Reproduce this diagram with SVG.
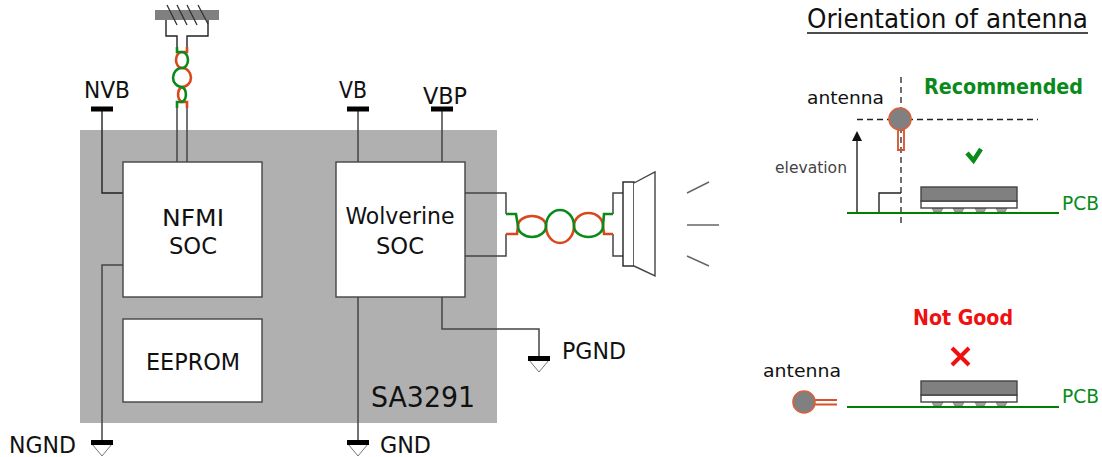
<svg xmlns="http://www.w3.org/2000/svg" width="1102" height="457" viewBox="0 0 1102 457">
<style>
text{font-family:"DejaVu Sans Condensed","DejaVu Sans",sans-serif;fill:#111}
.l{font-size:23px}
.m{font-size:20px}
.box{fill:#fff;stroke:#444;stroke-width:1.4}
.w{fill:none;stroke:#444;stroke-width:1.5}
.k{fill:none;stroke:#222;stroke-width:1.4}
.d{fill:none;stroke:#222;stroke-width:1.3;stroke-dasharray:6 4}
.g{fill:none;stroke:#0a8a1a;stroke-width:2.6}
.r{fill:none;stroke:#d9481c;stroke-width:2.6}
.bar{fill:#000}
.tri{fill:#fff;stroke:#777;stroke-width:1}
.pcb{stroke:#008000;stroke-width:2.200;fill:none}
.chip{fill:#808080;stroke:#444;stroke-width:1.4}
.base{fill:#fff;stroke:#444;stroke-width:1.4}
.ball{fill:#a0a0a0;stroke:#777;stroke-width:.8}
.ant{fill:#808080;stroke:#d8603a;stroke-width:1.6}
.st{fill:none;stroke:#d9502a;stroke-width:1.8}
</style>
<defs>
<g id="pcbchip"><path class="ball" d="M932 208H943L941 212H934Z"/><path class="ball" d="M953 208H964L962 212H955Z"/><path class="ball" d="M975 208H986L984 212H977Z"/><path class="ball" d="M996 208H1007L1005 212H998Z"/><rect class="base" x="921" y="201" width="96" height="7"/><rect class="chip" x="921" y="187" width="96" height="14"/></g>
<g id="gndsym"><path class="tri" d="M0 0H20L10 12Z" transform="translate(-10 0)"/><rect class="bar" x="-11" y="-4" width="22" height="5"/></g>
</defs>

<rect id="sa3291" x="80" y="130" width="417" height="293" fill="#b0b0b0"/>

<g id="connectors">
<path class="k" d="M102 109V193H123"/>
<path class="w" d="M123 265H102V444"/>
<path class="w" d="M177 108V162M187 108V162"/>
<path class="w" d="M358 109V162M442 109V162"/>
<path class="w" d="M358 297V444"/>
<path class="w" d="M442 297V329H539V360"/>
<path class="w" d="M465 193H506V214M465 256H506V234"/>
<path class="w" d="M613 214V193H623M613 234V256H623"/>
<path class="k" d="M166 20V36H177V47M208 20V36H187V47"/>
<path class="r" d="M187 47V52H182A6 8 0 0 0 182 68A9 9.500 0 0 1 182 87A6 8 0 0 0 182 102H187V108"/>
<path class="g" d="M177 47V52H182A6 8 0 0 1 182 68A9 9.500 0 0 0 182 87A6 8 0 0 1 182 102H177V108"/>
<path class="r" d="M506 234H517L518 226A14 10 0 0 1 546 226A14 17 0 0 0 574 226A14.500 13 0 0 1 603 226L604 234H613"/>
<path class="g" d="M506 214H516L518 226A14 11 0 0 0 546 226A14 16 0 0 1 574 226A14.500 11 0 0 0 603 226L604 214H613"/>
</g>

<g id="nfmi"><rect class="box" x="123" y="162" width="139" height="135"/><text class="l" x="193" y="226" text-anchor="middle" textLength="62" lengthAdjust="spacingAndGlyphs">NFMI</text><text class="l" x="193" y="254" text-anchor="middle" textLength="48" lengthAdjust="spacingAndGlyphs">SOC</text></g>
<g id="wolverine"><rect class="box" x="336" y="162" width="129" height="135"/><text class="l" x="400" y="224" text-anchor="middle" textLength="109" lengthAdjust="spacingAndGlyphs">Wolverine</text><text class="l" x="400" y="254" text-anchor="middle" textLength="48" lengthAdjust="spacingAndGlyphs">SOC</text></g>
<g id="eeprom"><rect class="box" x="123" y="319" width="139" height="83"/><text class="l" x="146" y="370" textLength="94" lengthAdjust="spacingAndGlyphs">EEPROM</text></g>
<text id="sa3291-label" x="371" y="407" font-size="28" textLength="104" lengthAdjust="spacingAndGlyphs">SA3291</text>

<g id="nvb"><rect class="bar" x="91" y="106.500" width="22" height="5"/><text class="l" x="84" y="98" textLength="46" lengthAdjust="spacingAndGlyphs">NVB</text></g>
<g id="vb"><rect class="bar" x="347" y="106.500" width="22" height="5"/><text class="l" x="339" y="98" textLength="28" lengthAdjust="spacingAndGlyphs">VB</text></g>
<g id="vbp"><rect class="bar" x="431" y="106.500" width="22" height="5"/><text class="l" x="423" y="104" textLength="44" lengthAdjust="spacingAndGlyphs">VBP</text></g>
<g id="ngnd"><use href="#gndsym" x="102" y="444"/><text class="l" x="9" y="453" textLength="67" lengthAdjust="spacingAndGlyphs">NGND</text></g>
<g id="gnd"><use href="#gndsym" x="358" y="444"/><text class="l" x="380" y="453" textLength="51" lengthAdjust="spacingAndGlyphs">GND</text></g>
<g id="pgnd"><use href="#gndsym" x="539" y="360"/><text class="l" x="562" y="359" textLength="64" lengthAdjust="spacingAndGlyphs">PGND</text></g>

<g id="top-antenna"><rect x="155" y="10" width="64" height="10" fill="#808080"/>
<path fill="none" stroke="#333" stroke-width="1.3" d="M167 5L177 25M177 5L187 25M187 5L197 25M198 5L208 24"/></g>

<g id="speaker"><rect x="623" y="182" width="11" height="84" fill="#fff" stroke="#222" stroke-width="1.4"/><path d="M634 183L655 172V276L634 266" fill="#fff" stroke="#444" stroke-width="1.4"/>
<path fill="none" stroke="#666" stroke-width="1.4" d="M687 193L709 182M687 225H719M687 256L709 266"/></g>

<g id="title"><text x="807" y="28" font-size="26" textLength="281" lengthAdjust="spacingAndGlyphs">Orientation of antenna</text><path d="M807 33H1088" stroke="#111" stroke-width="1.4"/></g>

<g id="recommended">
<text x="924" y="94" font-size="21" font-weight="700" style="fill:#0a8a1a" textLength="159" lengthAdjust="spacingAndGlyphs">Recommended</text>
<path class="d" d="M901 77V223"/><path class="d" d="M857 119.500H1038"/>
<path d="M898 130H904V150H898Z" fill="#fff" class="st"/>
<circle class="ant" cx="900" cy="119" r="11"/>
<text x="807" y="104" font-size="18" textLength="77" lengthAdjust="spacingAndGlyphs">antenna</text>
<text x="775" y="173" font-size="16" style="fill:#444" textLength="72" lengthAdjust="spacingAndGlyphs">elevation</text>
<path class="k" d="M857 213V140"/><path d="M852 141L857 131L862 141Z" fill="#111"/>
<path class="k" d="M879 213V193H901"/>
<path d="M967 153L973.500 160.500L981 149" fill="none" stroke="#0a8a1a" stroke-width="4.500"/>
<use href="#pcbchip"/>
<path class="pcb" d="M847 213H1059"/>
<text x="1062" y="210" class="m" style="fill:#0a8a1a" textLength="37" lengthAdjust="spacingAndGlyphs">PCB</text>
</g>

<g id="not-good">
<text x="913" y="325" font-size="21" font-weight="700" style="fill:#f01010" textLength="100" lengthAdjust="spacingAndGlyphs">Not Good</text>
<path d="M952 348L969 365M969 348L952 365" stroke="#f01010" stroke-width="4" fill="none"/>
<text x="763" y="377" font-size="18" textLength="78" lengthAdjust="spacingAndGlyphs">antenna</text>
<path class="st" d="M815 400H837M815 404.500H837"/>
<circle class="ant" cx="804" cy="402" r="11"/>
<use href="#pcbchip" y="194"/>
<path class="pcb" d="M847 407H1059"/>
<text x="1062" y="403" class="m" style="fill:#0a8a1a" textLength="37" lengthAdjust="spacingAndGlyphs">PCB</text>
</g>
</svg>
